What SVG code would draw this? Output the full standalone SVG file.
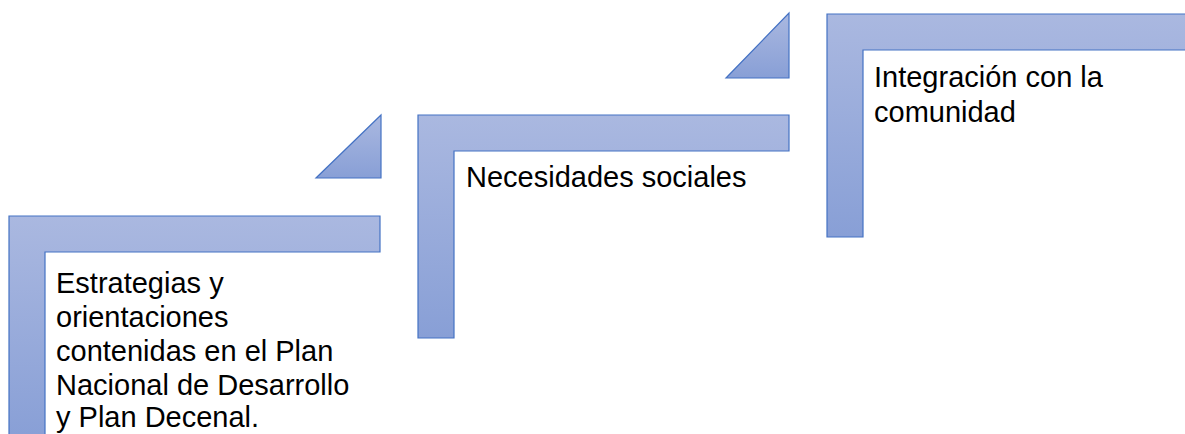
<svg xmlns="http://www.w3.org/2000/svg" width="1185" height="434" viewBox="0 0 1185 434">
<defs>
<linearGradient id="g" x1="0" y1="0" x2="0" y2="1">
<stop offset="0" stop-color="#aab8e0"/>
<stop offset="1" stop-color="#889fd6"/>
</linearGradient>
<style>
.s{fill:url(#g);stroke:#4472c4;stroke-width:1.2}
.t{font-family:"Liberation Sans",Arial,sans-serif;font-size:29px;fill:#000}
</style>
</defs>
<rect width="1185" height="434" fill="#fff"/>
<g id="connectors">
<path class="s" d="M381,115 L381,178 L316,178 Z"/>
<path class="s" d="M789,13 L789,78 L726,78 Z"/>
</g>
<g id="node1">
<path class="s" d="M9,216 L380,216 L380,252 L45,252 L45,440 L9,440 Z"/>
<text class="t" x="56"><tspan x="56" y="293">Estrategias y</tspan><tspan x="56" y="327">orientaciones</tspan><tspan x="56" y="361">contenidas en el Plan</tspan><tspan x="56" y="395">Nacional de Desarrollo</tspan><tspan x="56" y="427">y Plan Decenal.</tspan></text>
</g>
<g id="node2">
<path class="s" d="M418,115 L789,115 L789,151 L454,151 L454,338 L418,338 Z"/>
<text class="t" x="466" y="187">Necesidades sociales</text>
</g>
<g id="node3">
<path class="s" d="M827,14 L1195,14 L1195,50 L863,50 L863,237 L827,237 Z"/>
<text class="t"><tspan x="874" y="87">Integración con la</tspan><tspan x="874" y="122">comunidad</tspan></text>
</g>
</svg>
